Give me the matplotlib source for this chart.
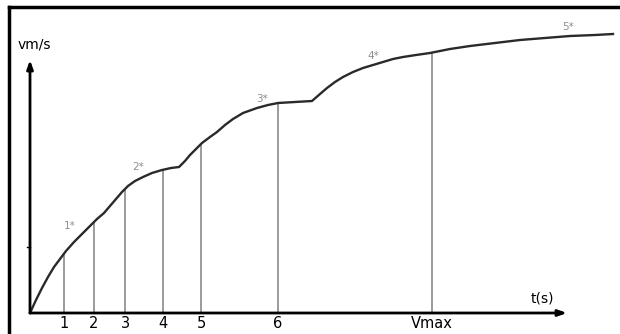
import matplotlib
matplotlib.use("Agg")
import matplotlib.pyplot as plt
from matplotlib.lines import Line2D

# curve (t in px-like units from origin, v upward)
curve_t = [0, 6, 12, 18, 24, 30, 36, 44, 52, 60, 67, 74,
           80, 86, 92, 98, 105, 113, 122, 132, 141, 149,
           155, 160, 166, 172, 180, 187, 195, 203, 213, 227, 238, 248, 282,
           290, 297, 305, 313, 323, 333, 343, 353, 363, 373, 386, 400,
           420, 440, 465, 490, 515, 540, 565, 583]
curve_v = [0, 13, 25, 36, 46, 54, 62, 71, 79, 87, 94, 100,
           107, 114, 121, 127, 132, 136, 140, 143, 145, 146,
           152, 158, 164, 170, 176, 181, 188, 194, 200, 205, 208, 210, 212,
           219, 225, 231, 236, 241, 245, 248, 251, 254, 256, 258, 260,
           264, 267, 270, 273, 275, 277, 278, 279]

# drop lines and their labels
drop_t = [34, 64, 95, 133, 171, 248, 402]
drop_v = [60, 91, 124, 143, 169, 210, 260]
drop_labels = ["1", "2", "3", "4", "5", "6", "Vmax"]

# gear marks along the curve
gear_labels = ["1*", "2*", "3*", "4*", "5*"]
gear_t = [40, 108, 232, 343, 538]
gear_v = [87, 146, 214, 257, 286]

fig = plt.figure(figsize=(6.2, 3.34), dpi=100)
ax = fig.add_axes([0, 0, 1, 1])
ax.set_xlim(-30, 590)
ax.set_ylim(-21, 313)
ax.axis("off")

# frame (left and top edges of the original picture)
fig.add_artist(Line2D([0.0145, 0.0145], [0, 0.98], transform=fig.transFigure,
                      color="black", lw=2.5))
fig.add_artist(Line2D([0.0145, 1.0], [0.98, 0.98], transform=fig.transFigure,
                      color="black", lw=2.5))

for t, v in zip(drop_t, drop_v):
    ax.plot([t, t], [0, v], color="#8a8a8a", lw=1.2, solid_capstyle="butt")

ax.plot(curve_t, curve_v, color="#2a2a2a", lw=1.7, solid_joinstyle="round")

# axes with arrows
ax.annotate("", xy=(0, 253), xytext=(0, 0),
            arrowprops=dict(arrowstyle="-|>,head_length=0.5,head_width=0.18",
                            color="black", lw=2, shrinkA=0, shrinkB=0))
ax.annotate("", xy=(537, 0), xytext=(0, 0),
            arrowprops=dict(arrowstyle="-|>,head_length=0.5,head_width=0.18",
                            color="black", lw=2, shrinkA=0, shrinkB=0))
ax.plot([-3, 0], [66, 66], color="black", lw=1)

ax.text(-12, 268, "vm/s", fontsize=10, ha="left", va="center")
ax.text(512, 15, "t(s)", fontsize=10, ha="center", va="center")

for t, lab in zip(drop_t, drop_labels):
    ax.text(t, -3, lab, fontsize=10.5, ha="center", va="top")

for t, v, lab in zip(gear_t, gear_v, gear_labels):
    ax.text(t, v, lab, fontsize=7.5, color="#909090", ha="center", va="center")

fig.savefig("out.png", dpi=100)
